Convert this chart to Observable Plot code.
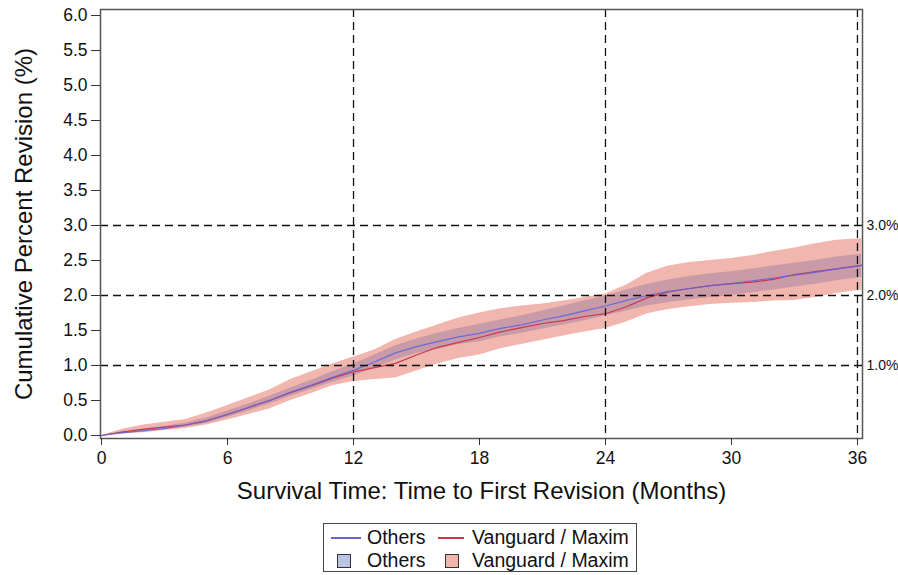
<!DOCTYPE html>
<html><head><meta charset="utf-8">
<script src="https://cdn.jsdelivr.net/npm/d3@7"></script>
<script src="https://cdn.jsdelivr.net/npm/@observablehq/plot@0.6"></script>
<style>
body{margin:0;background:#fff;font-family:"Liberation Sans",Arial,sans-serif;}
#wrap{position:relative;width:898px;height:575px;}
#legend{position:absolute;left:323px;top:523px;width:312px;height:47px;border:1px solid #444;box-sizing:content-box;font-size:19.5px;color:#111;}
#legend .it{position:absolute;white-space:nowrap;line-height:22px;}
#legend .ln{position:absolute;height:1.6px;}
#legend .sq{position:absolute;width:12px;height:12px;border:1px solid #333;}
</style></head><body>
<div id="wrap"><div id="chart"></div><div id="legend"></div></div>
<script>
// Months since surgery (knots)
const months = [0,1,2,3,4,5,6,7,8,9,10,11,12,13,14,15,16,17,18,19,20,21,22,23,24,25,26,27,28,29,30,31,32,33,34,35,36.2];
// Others: cumulative percent revision and 95% CI
const othersPct = [0,0.04,0.07,0.10,0.15,0.21,0.30,0.40,0.50,0.62,0.72,0.83,0.93,1.05,1.18,1.27,1.34,1.41,1.46,1.53,1.58,1.65,1.71,1.78,1.85,1.93,2.00,2.06,2.10,2.14,2.17,2.21,2.25,2.29,2.33,2.38,2.43];
const othersLo  = [0,0.02,0.05,0.08,0.12,0.17,0.26,0.35,0.45,0.56,0.66,0.76,0.85,0.96,1.08,1.17,1.23,1.30,1.34,1.41,1.46,1.52,1.58,1.64,1.71,1.78,1.85,1.90,1.94,1.97,2.00,2.04,2.08,2.12,2.16,2.21,2.26];
const othersHi  = [0,0.06,0.09,0.13,0.18,0.25,0.35,0.45,0.56,0.68,0.79,0.91,1.02,1.15,1.28,1.38,1.46,1.53,1.59,1.65,1.71,1.78,1.85,1.92,1.99,2.08,2.16,2.22,2.27,2.31,2.34,2.38,2.42,2.46,2.50,2.55,2.59];
// Vanguard / Maxim: cumulative percent revision and 95% CI
const vmPct = [0,0.05,0.09,0.12,0.15,0.21,0.30,0.40,0.50,0.61,0.71,0.82,0.91,0.97,1.03,1.15,1.26,1.33,1.40,1.48,1.54,1.60,1.64,1.70,1.74,1.84,1.97,2.05,2.10,2.14,2.17,2.19,2.23,2.30,2.34,2.38,2.43];
const vmLo  = [0,0.02,0.04,0.07,0.10,0.15,0.22,0.30,0.38,0.50,0.60,0.71,0.77,0.80,0.82,0.92,1.02,1.10,1.15,1.24,1.30,1.36,1.42,1.48,1.53,1.62,1.74,1.80,1.84,1.87,1.89,1.90,1.92,1.93,1.97,2.03,2.08];
const vmHi  = [0,0.09,0.15,0.19,0.23,0.32,0.43,0.54,0.65,0.80,0.91,1.02,1.12,1.22,1.37,1.48,1.58,1.68,1.75,1.81,1.85,1.88,1.92,1.97,2.02,2.15,2.32,2.42,2.47,2.50,2.53,2.57,2.63,2.68,2.74,2.79,2.81];

const xTicks = [0,6,12,18,24,30,36];
const yTicks = [0,0.5,1,1.5,2,2.5,3,3.5,4,4.5,5,5.5,6];
const refX = [12,24,36];
const refY = [1,2,3];
const refLabels = ["1.0%","2.0%","3.0%"];
const seriesNames = ["Others","Vanguard / Maxim"];
const lineColors = ["#6464dc","#cc3648"];
const bandColors = ["#b9c3e3","#f0b6ad"];

const rows = months.map((m,i)=>({month:m, oP:othersPct[i], oL:othersLo[i], oH:othersHi[i], vP:vmPct[i], vL:vmLo[i], vH:vmHi[i]}));
const refs = refY.map((v,i)=>({v, label:refLabels[i]}));
const font = '"Liberation Sans", Arial, sans-serif';

const chart = Plot.plot({
  width: 898, height: 518,
  marginLeft: 100, marginRight: 36, marginTop: 9, marginBottom: 80,
  style: {fontFamily: font, background: "#fff", color: "#111"},
  x: {domain: [-0.05, 36.24]},
  y: {domain: [-0.043, 6.086]},
  marks: [
    Plot.areaY(rows, {x:"month", y1:"vL", y2:"vH", fill:"#f1b6ae", fillOpacity:1}),
    Plot.areaY(rows, {x:"month", y1:"oL", y2:"oH", fill:"#8a6c9c", fillOpacity:0.38}),
    Plot.line(rows, {x:"month", y:"vP", stroke:lineColors[1], strokeWidth:1.2}),
    Plot.line(rows, {x:"month", y:"oP", stroke:lineColors[0], strokeWidth:1.2, strokeOpacity:0.9}),
    Plot.ruleY(refY, {stroke:"#111", strokeWidth:1.3, strokeDasharray:"8,5"}),
    Plot.ruleX(refX, {stroke:"#111", strokeWidth:1.3, strokeDasharray:"8,5"}),
    Plot.text(refs, {y:"v", text:"label", frameAnchor:"right", textAnchor:"start", dx:4, fontSize:14, fill:"#111"}),
    Plot.frame({stroke:"#555", strokeWidth:1.5}),
    Plot.axisX(xTicks, {tickSize:7, tickPadding:6, fontSize:17.5, label:null, stroke:"#333"}),
    Plot.axisY(yTicks, {tickSize:9, tickPadding:4, fontSize:17.5, tickFormat:".1f", label:null, stroke:"#333"}),
    Plot.text(["Survival Time: Time to First Revision (Months)"], {frameAnchor:"bottom", dy:60, fontSize:24, text:d=>d, fill:"#111"}),
    Plot.text(["Cumulative Percent Revision (%)"], {frameAnchor:"left", textAnchor:"middle", rotate:-90, dx:-76, fontSize:24, text:d=>d, fill:"#111"})
  ]
});
document.getElementById("chart").appendChild(chart);

// Legend (HTML)
const lg = document.getElementById("legend");
const cols = [{sw:7, tx:43},{sw:114, tx:148}];
seriesNames.forEach((name,i)=>{
  const c = cols[i];
  const ln = document.createElement("div"); ln.className="ln";
  ln.style.left=c.sw+"px"; ln.style.width=(i===0?30:26)+"px"; ln.style.top="13px"; ln.style.background=lineColors[i];
  lg.appendChild(ln);
  const t1 = document.createElement("div"); t1.className="it"; t1.textContent=name;
  t1.style.left=c.tx+"px"; t1.style.top="2px"; lg.appendChild(t1);
  const sq = document.createElement("div"); sq.className="sq"; sq.style.background=bandColors[i];
  sq.style.left=(c.sw+(i===0?6:7))+"px"; sq.style.top="30px"; lg.appendChild(sq);
  const t2 = document.createElement("div"); t2.className="it"; t2.textContent=name;
  t2.style.left=c.tx+"px"; t2.style.top="25px"; lg.appendChild(t2);
});
</script></body></html>
